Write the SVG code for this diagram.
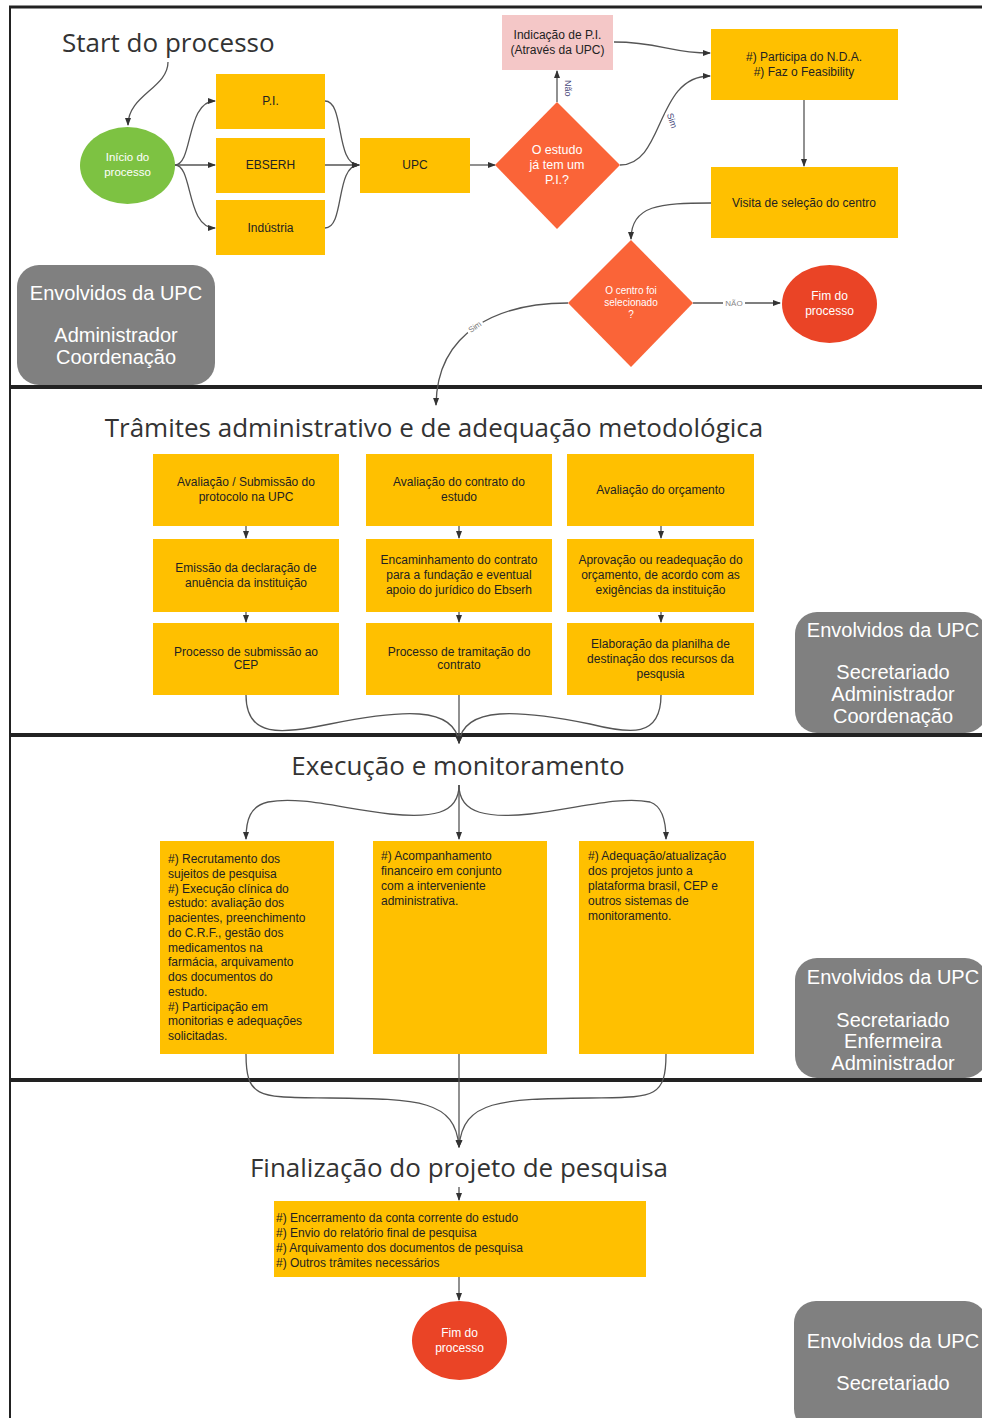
<svg xmlns="http://www.w3.org/2000/svg" width="982" height="1418" viewBox="0 0 982 1418">
<defs>
<marker id="ah" markerWidth="8" markerHeight="8" refX="7" refY="4" orient="auto" markerUnits="userSpaceOnUse"><path d="M0,1 L8,4 L0,7 z" fill="#333"/></marker>
<style>
.frame{stroke:#222;fill:none}
.title{font-family:"Open Sans","Liberation Sans",sans-serif;font-size:26px;fill:#333}
.box{fill:#FFC000}
.t{font-family:"Liberation Sans",Arial,sans-serif;font-size:12px;fill:#222}
.tc{font-family:"Liberation Sans",Arial,sans-serif;font-size:12px;fill:#222;text-anchor:middle}
.tw{font-family:"Liberation Sans",Arial,sans-serif;font-size:12px;fill:#fff;text-anchor:middle}
.env{fill:#808080}
.envt{font-family:"Liberation Sans",Arial,sans-serif;font-size:20px;fill:#fff;text-anchor:middle}
.c{fill:none;stroke:#555;stroke-width:1.3;marker-end:url(#ah)}
.lbl{font-family:"Liberation Sans",Arial,sans-serif;font-size:9px;fill:#447}
</style>
</defs>
<rect width="982" height="1418" fill="#fff"/>
<g id="frame">
<line class="frame" x1="10" y1="6" x2="10" y2="1418" stroke-width="2"/>
<line class="frame" x1="9" y1="7" x2="982" y2="7" stroke-width="3"/>
<line class="frame" x1="9" y1="387" x2="982" y2="387" stroke-width="4"/>
<line class="frame" x1="9" y1="735" x2="982" y2="735" stroke-width="4"/>
<line class="frame" x1="9" y1="1080" x2="982" y2="1080" stroke-width="4"/>
</g>
<g id="titles">
<text class="title" x="62" y="52">Start do processo</text>
<text class="title" x="434" y="437" text-anchor="middle">Trâmites administrativo e de adequação metodológica</text>
<text class="title" x="458" y="775" text-anchor="middle">Execução e monitoramento</text>
<text class="title" x="459" y="1177" text-anchor="middle">Finalização do projeto de pesquisa</text>
</g>
<g id="connectors">
<path class="c" d="M168,62 C168,88 128,95 128,125"/>
<path class="c" d="M175,165 C193,165 186,101 215,101"/>
<path class="c" d="M175,165 L215,165"/>
<path class="c" d="M175,165 C193,165 186,228 215,228"/>
<path class="c" d="M325,101 C345,101 335,165 359,165"/>
<path class="c" d="M325,165 L359,165"/>
<path class="c" d="M325,228 C345,228 335,165 359,165"/>
<path class="c" d="M470,165 L495,165"/>
<path class="c" d="M557,102 L557,71"/>
<path class="c" d="M614,42 C660,42 670,53 710,53"/>
<path class="c" d="M620,165 C665,165 655,76 710,76"/>
<path class="c" d="M804,100 L804,166"/>
<path class="c" d="M711,203 C660,203 631,205 631,239"/>
<path class="c" d="M693,303 L780,303"/>
<path class="c" d="M568,303 C500,303 437,330 436,405"/>
<path class="c" d="M246,526 L246,538"/>
<path class="c" d="M246,612 L246,622"/>
<path class="c" d="M459,526 L459,538"/>
<path class="c" d="M459,612 L459,622"/>
<path class="c" d="M661,526 L661,538"/>
<path class="c" d="M661,612 L661,622"/>
<path class="c" d="M246,695 C246,738 280,734 330,724 C400,710 455,705 459,743"/>
<path class="c" d="M459,695 L459,743"/>
<path class="c" d="M661,695 C661,738 630,734 590,724 C520,710 463,705 459,743"/>
<path class="c" d="M459,785 L459,839"/>
<path class="c" d="M459,785 C459,815 430,818 390,814 C340,808 300,796 268,802 C250,806 246,820 246,839"/>
<path class="c" d="M459,785 C459,815 490,818 530,814 C580,808 620,796 650,802 C662,806 666,820 666,839"/>
<path class="c" d="M246,1054 C246,1100 260,1097 330,1098 C420,1099 455,1100 459,1147"/>
<path class="c" d="M459,1054 L459,1147"/>
<path class="c" d="M666,1054 C666,1100 652,1097 590,1098 C500,1099 463,1100 459,1147"/>
<path class="c" d="M459,1187 L459,1200"/>
<path class="c" d="M459,1277 L459,1300"/>
<text class="lbl" transform="translate(565,80) rotate(90)">Não</text>
<g transform="translate(671,121) rotate(72)"><rect x="-9" y="-6" width="18" height="9" fill="#fff"/><text class="lbl" x="0" y="2" text-anchor="middle">Sim</text></g>
<rect x="723" y="298" width="22" height="10" fill="#fff"/>
<text class="lbl" x="734" y="306" text-anchor="middle" style="fill:#888;font-size:8px">NÃO</text>
<g transform="translate(475,327) rotate(-35)"><rect x="-9" y="-5" width="18" height="9" fill="#fff"/><text class="lbl" x="0" y="2.5" text-anchor="middle" style="fill:#777;font-size:8px">Sim</text></g>
</g>
<g id="inicio">
<ellipse cx="127.5" cy="165.5" rx="47.5" ry="38.5" fill="#7DC242"/>
<text class="tw" x="127.5" y="161" style="font-size:11.5px">Início do</text>
<text class="tw" x="127.5" y="176" style="font-size:11.5px">processo</text>
</g>
<g id="pi"><rect class="box" x="216" y="74" width="109" height="55"/><text class="tc" x="270.5" y="105">P.I.</text></g>
<g id="ebserh"><rect class="box" x="216" y="138" width="109" height="55"/><text class="tc" x="270.5" y="169">EBSERH</text></g>
<g id="industria"><rect class="box" x="216" y="200" width="109" height="55"/><text class="tc" x="270.5" y="232">Indústria</text></g>
<g id="upc"><rect class="box" x="360" y="138" width="110" height="55"/><text class="tc" x="415" y="169">UPC</text></g>
<g id="decisao1">
<polygon points="557,102 620,165 557,229 495,165" fill="#FA6438"/>
<text class="tw" x="557" y="154" style="font-size:12.5px">O estudo</text>
<text class="tw" x="557" y="169" style="font-size:12.5px">já tem um</text>
<text class="tw" x="557" y="184" style="font-size:12.5px">P.I.?</text>
</g>
<g id="indicacao">
<rect x="502" y="15" width="111" height="55" fill="#F4C7C7"/>
<text class="tc" x="557.5" y="39">Indicação de P.I.</text>
<text class="tc" x="557.5" y="54">(Através da UPC)</text>
</g>
<g id="nda">
<rect class="box" x="711" y="29" width="187" height="71"/>
<text class="tc" x="804" y="61">#) Participa do N.D.A.</text>
<text class="tc" x="804" y="76">#) Faz o Feasibility</text>
</g>
<g id="visita">
<rect class="box" x="711" y="167" width="187" height="71"/>
<text class="tc" x="804" y="207">Visita de seleção do centro</text>
</g>
<g id="decisao2">
<polygon points="631,240 693,303 631,367 568,303" fill="#FA6438"/>
<text class="tw" x="631" y="294" style="font-size:10px">O centro foi</text>
<text class="tw" x="631" y="306" style="font-size:10px">selecionado</text>
<text class="tw" x="631" y="318" style="font-size:10px">?</text>
</g>
<g id="fim1">
<ellipse cx="829.5" cy="304" rx="47.5" ry="39" fill="#EA4426"/>
<text class="tw" x="829.5" y="300">Fim do</text>
<text class="tw" x="829.5" y="315">processo</text>
</g>
<g id="env1">
<rect class="env" x="17" y="265" width="198" height="120" rx="22"/>
<text class="envt" x="116" y="300">Envolvidos da UPC</text>
<text class="envt" x="116" y="342">Administrador</text>
<text class="envt" x="116" y="364">Coordenação</text>
</g>
<g id="s2r1c1"><rect class="box" x="153" y="454" width="186" height="72"/><text class="tc" x="246" y="486">Avaliação / Submissão do</text><text class="tc" x="246" y="501">protocolo na UPC</text></g>
<g id="s2r1c2"><rect class="box" x="366" y="454" width="186" height="72"/><text class="tc" x="459" y="486">Avaliação do contrato do</text><text class="tc" x="459" y="501">estudo</text></g>
<g id="s2r1c3"><rect class="box" x="567" y="454" width="187" height="72"/><text class="tc" x="660.5" y="494">Avaliação do orçamento</text></g>
<g id="s2r2c1"><rect class="box" x="153" y="539" width="186" height="73"/><text class="tc" x="246" y="572">Emissão da declaração de</text><text class="tc" x="246" y="587">anuência da instituição</text></g>
<g id="s2r2c2"><rect class="box" x="366" y="539" width="186" height="73"/><text class="tc" x="459" y="564">Encaminhamento do contrato</text><text class="tc" x="459" y="579">para a fundação e eventual</text><text class="tc" x="459" y="594">apoio do jurídico do Ebserh</text></g>
<g id="s2r2c3"><rect class="box" x="567" y="539" width="187" height="73"/><text class="tc" x="660.5" y="564">Aprovação ou readequação do</text><text class="tc" x="660.5" y="579">orçamento, de acordo com as</text><text class="tc" x="660.5" y="594">exigências da instituição</text></g>
<g id="s2r3c1"><rect class="box" x="153" y="623" width="186" height="72"/><text class="tc" x="246" y="656">Processo de submissão ao</text><text class="tc" x="246" y="669">CEP</text></g>
<g id="s2r3c2"><rect class="box" x="366" y="623" width="186" height="72"/><text class="tc" x="459" y="656">Processo de tramitação do</text><text class="tc" x="459" y="669">contrato</text></g>
<g id="s2r3c3"><rect class="box" x="567" y="623" width="187" height="72"/><text class="tc" x="660.5" y="648">Elaboração da planilha de</text><text class="tc" x="660.5" y="663">destinação dos recursos da</text><text class="tc" x="660.5" y="678">pesqusia</text></g>
<g id="env2">
<rect class="env" x="795" y="612" width="192" height="121" rx="22"/>
<text class="envt" x="893" y="637">Envolvidos da UPC</text>
<text class="envt" x="893" y="679">Secretariado</text>
<text class="envt" x="893" y="701">Administrador</text>
<text class="envt" x="893" y="723">Coordenação</text>
</g>
<g id="s3c1"><rect class="box" x="160" y="841" width="174" height="213"/>
<text class="t" x="168" y="863"><tspan x="168">#) Recrutamento dos</tspan><tspan x="168" dy="14.75">sujeitos de pesquisa</tspan><tspan x="168" dy="14.75">#) Execução clínica do</tspan><tspan x="168" dy="14.75">estudo: avaliação dos</tspan><tspan x="168" dy="14.75">pacientes, preenchimento</tspan><tspan x="168" dy="14.75">do C.R.F., gestão dos</tspan><tspan x="168" dy="14.75">medicamentos na</tspan><tspan x="168" dy="14.75">farmácia, arquivamento</tspan><tspan x="168" dy="14.75">dos documentos do</tspan><tspan x="168" dy="14.75">estudo.</tspan><tspan x="168" dy="14.75">#) Participação em</tspan><tspan x="168" dy="14.75">monitorias e adequações</tspan><tspan x="168" dy="14.75">solicitadas.</tspan></text></g>
<g id="s3c2"><rect class="box" x="373" y="841" width="174" height="213"/>
<text class="t" x="381" y="860"><tspan x="381">#) Acompanhamento</tspan><tspan x="381" dy="15">financeiro em conjunto</tspan><tspan x="381" dy="15">com a interveniente</tspan><tspan x="381" dy="15">administrativa.</tspan></text></g>
<g id="s3c3"><rect class="box" x="579" y="841" width="175" height="213"/>
<text class="t" x="588" y="860"><tspan x="588">#) Adequação/atualização</tspan><tspan x="588" dy="15">dos projetos junto a</tspan><tspan x="588" dy="15">plataforma brasil, CEP e</tspan><tspan x="588" dy="15">outros sistemas de</tspan><tspan x="588" dy="15">monitoramento.</tspan></text></g>
<g id="env3">
<rect class="env" x="795" y="958" width="192" height="120" rx="22"/>
<text class="envt" x="893" y="984">Envolvidos da UPC</text>
<text class="envt" x="893" y="1027">Secretariado</text>
<text class="envt" x="893" y="1048">Enfermeira</text>
<text class="envt" x="893" y="1070">Administrador</text>
</g>
<g id="final"><rect class="box" x="274" y="1201" width="372" height="76"/>
<text class="t" x="276" y="1222"><tspan x="276">#) Encerramento da conta corrente do estudo</tspan><tspan x="276" dy="15">#) Envio do relatório final de pesquisa</tspan><tspan x="276" dy="15">#) Arquivamento dos documentos de pesquisa</tspan><tspan x="276" dy="15">#) Outros trâmites necessários</tspan></text></g>
<g id="fim2">
<ellipse cx="459.5" cy="1340.5" rx="47.5" ry="39.5" fill="#EA4426"/>
<text class="tw" x="459.5" y="1337">Fim do</text>
<text class="tw" x="459.5" y="1352">processo</text>
</g>
<g id="env4">
<rect class="env" x="794" y="1301" width="193" height="130" rx="22"/>
<text class="envt" x="893" y="1348">Envolvidos da UPC</text>
<text class="envt" x="893" y="1390">Secretariado</text>
</g>
</svg>
